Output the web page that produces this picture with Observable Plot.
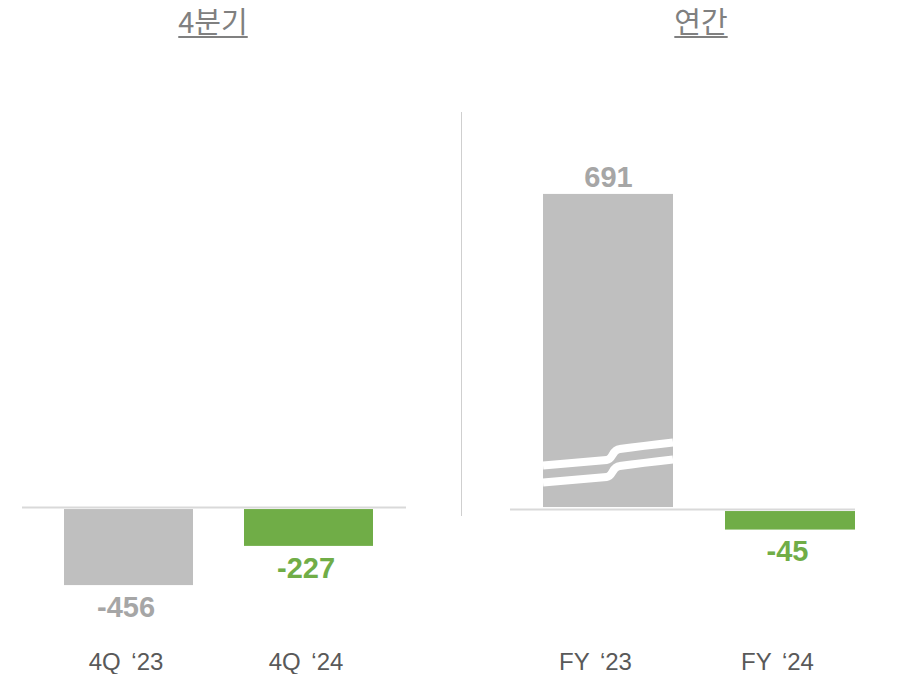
<!DOCTYPE html>
<html><head><meta charset="utf-8">
<script src="https://cdn.jsdelivr.net/npm/d3@7"></script>
<script src="https://cdn.jsdelivr.net/npm/@observablehq/plot@0.6"></script>
<style>
html,body{margin:0;padding:0;background:#fff;}
#wrap{position:relative;width:911px;height:674px;overflow:hidden;font-family:"Liberation Sans",Arial,sans-serif;}
.title{position:absolute;top:1px;width:200px;text-align:center;font-family:"Noto Sans CJK KR","Noto Sans",sans-serif;font-size:29px;line-height:38px;color:#808080;text-decoration:underline;text-decoration-thickness:1.5px;text-underline-offset:3px;}
#divider{position:absolute;left:460.5px;top:112px;width:1.5px;height:404px;background:#cfcfcf;}
#left{position:absolute;left:0;top:50px;}
#right{position:absolute;left:455px;top:50px;}
</style></head>
<body>
<div id="wrap">
  <div class="title" id="t1" style="left:113px"></div>
  <div class="title" id="t2" style="left:601px"></div>
  <div id="divider"></div>
  <div id="left"></div>
  <div id="right"></div>
</div>
<script>
const panelTitles = ["4분기", "연간"];
const quarterLabels = ["4Q ‘23", "4Q ‘24"];
const quarterValues = [-456, -227];
const yearLabels = ["FY ‘23", "FY ‘24"];
const yearValues = [691, -45];
const barColors = ["#bfbfbf", "#70ad47"];
const labelColors = ["#a6a6a6", "#70ad47"];
const brokenBar = "FY ‘23";
const breakValue = 102;

document.getElementById("t1").textContent = panelTitles[0];
document.getElementById("t2").textContent = panelTitles[1];

function panel(labels, values, opts) {
  const data = labels.map((l, i) => ({label: l, value: values[i], fill: barColors[i], text: labelColors[i]}));
  return Plot.plot({
    width: opts.width, height: 624,
    marginLeft: opts.ml, marginRight: opts.mr, marginTop: 60, marginBottom: 40,
    style: {fontFamily: '"Liberation Sans", Arial, sans-serif', color: "#595959", background: "transparent"},
    x: {domain: labels, paddingInner: opts.pi, paddingOuter: opts.po, align: opts.align, label: null},
    y: {domain: opts.ydomain, axis: null},
    marks: [
      Plot.ruleY([0], {stroke: "#d9d9d9", strokeWidth: 2}),
      Plot.barY(data.filter(d => d.value >= 0), {x: "label", y: "value", fill: "fill", insetBottom: 2}),
      Plot.barY(data.filter(d => d.value < 0), {x: "label", y: "value", fill: "fill", insetTop: 2}),
      Plot.text(data.filter(d => d.value >= 0), {x: "label", y: "value", text: d => String(d.value), fill: "text", fontSize: 29, fontWeight: "bold", dy: -17}),
      Plot.text(data.filter(d => d.value < 0), {x: "label", y: "value", text: d => String(d.value), fill: "text", fontSize: 29, fontWeight: "bold", dy: 22, dx: -3}),
      Plot.axisX({tickSize: 0, tickPadding: 18, fontSize: 24, label: null, fill: "#595959", dx: opts.labelDx})
    ]
  });
}

const left = panel(quarterLabels, quarterValues, {width: 455, ml: 22, mr: 49, pi: 0.283, po: 0.205, align: 0.567, ydomain: [-742, 2321], labelDx: -3});
const right = panel(yearLabels, yearValues, {width: 456, ml: 55, mr: 56, pi: 0.284, po: 0.085, align: 1, ydomain: [-274, 875], labelDx: -13});
document.getElementById("left").appendChild(left);
document.getElementById("right").appendChild(right);
d3.selectAll("g[aria-label='x-axis tick label'] text").style("word-spacing", "4px");

// axis break on the tall bar
const xs = right.scale("x"), ys = right.scale("y");
const x0 = xs.apply(brokenBar), w = xs.bandwidth, cMid = ys.apply(breakValue);
const g = d3.select(right).append("g");
[-8.5, 8.5].forEach(off => {
  const c = cMid + off;
  const p = d3.path();
  p.moveTo(x0, c + 11.5);
  p.quadraticCurveTo(x0 + 0.3 * w, c + 8, x0 + 0.49 * w, c + 6);
  p.bezierCurveTo(x0 + 0.54 * w, c + 5.5, x0 + 0.53 * w, c - 4.5, x0 + 0.59 * w, c - 5);
  p.quadraticCurveTo(x0 + 0.76 * w, c - 8, x0 + w, c - 11.5);
  g.append("path").attr("d", p.toString()).attr("fill", "none").attr("stroke", "#fff").attr("stroke-width", 8);
});
</script>
</body></html>
